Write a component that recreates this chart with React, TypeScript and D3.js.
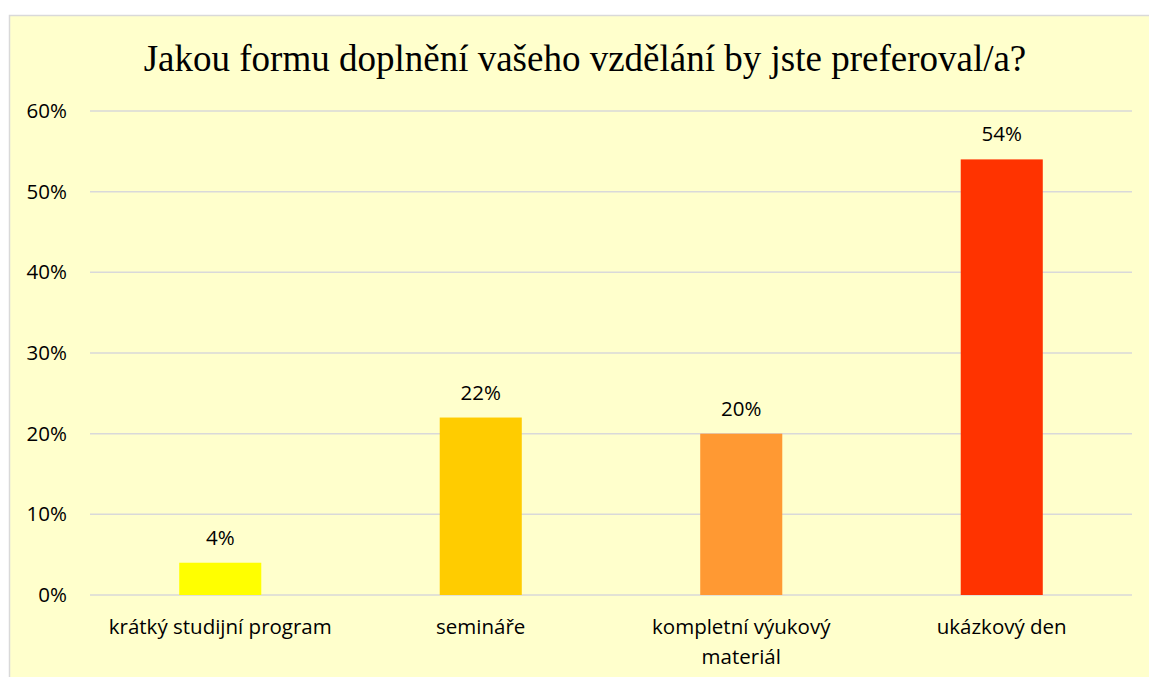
import React from "react";
import * as d3 from "d3";

const categories = ["krátký studijní program", "semináře", "kompletní výukový\nmateriál", "ukázkový den"];
const values = [0.04, 0.22, 0.2, 0.54];
const colors = ["#FFFF00", "#FFCC00", "#FF9933", "#FF3300"];
const yTicks = [0, 0.1, 0.2, 0.3, 0.4, 0.5, 0.6];
const title = "Jakou formu doplnění vašeho vzdělání by jste preferoval/a?";

export default function App() {
  const W = 1149, H = 677;
  const left = 90, right = 1132, top = 111, bottom = 595;
  const x = d3.scaleBand<string>().domain(categories).range([left, right]).paddingInner(0.685).paddingOuter(0.3425);
  const y = d3.scaleLinear().domain([0, 0.6]).range([bottom, top]);
  const fmt = d3.format(".0%");
  const font = "'Open Sans', sans-serif";
  const fs = 20.5;
  return (
    <svg width={W} height={H} style={{ position: "absolute", left: 0, top: 0, display: "block" }}>
      <rect x={0} y={0} width={W} height={H} fill="#fff" />
      <rect x={9.5} y={15.5} width={W + 10} height={H + 10} fill="#FFFFCC" stroke="#D9D9D9" strokeWidth={1.5} />
      <text x={585} y={71} textAnchor="middle" fontFamily="'Liberation Serif', 'Times New Roman', serif" fontSize={37} fill="#000">{title}</text>
      {yTicks.map((t) => (
        <g key={t}>
          <line x1={left} x2={right} y1={y(t)} y2={y(t)} stroke="#D9D9D9" strokeWidth={1.5} />
          <text x={67} y={y(t) + 7} textAnchor="end" fontFamily={font} fontSize={fs} fill="#000">{fmt(t)}</text>
        </g>
      ))}
      {categories.map((c, i) => (
        <g key={c}>
          <rect x={x(c)} y={y(values[i])} width={x.bandwidth()} height={y(0) - y(values[i])} fill={colors[i]} />
          <text x={(x(c) as number) + x.bandwidth() / 2} y={y(values[i]) - 18} textAnchor="middle" fontFamily={font} fontSize={fs} fill="#000">{fmt(values[i])}</text>
          {c.split("\n").map((line, j) => (
            <text key={j} x={(x(c) as number) + x.bandwidth() / 2} y={634 + j * 30} textAnchor="middle" fontFamily={font} fontSize={fs} fill="#000">{line}</text>
          ))}
        </g>
      ))}
    </svg>
  );
}
